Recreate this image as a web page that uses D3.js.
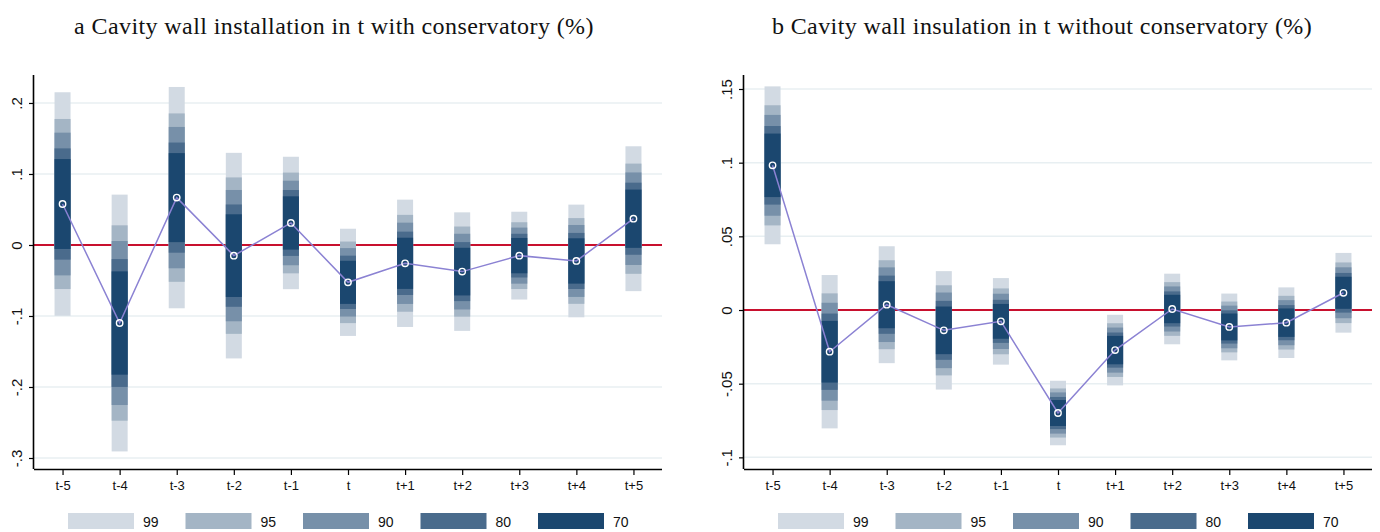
<!DOCTYPE html>
<html>
<head>
<meta charset="utf-8">
<script src="https://cdn.jsdelivr.net/npm/d3@7"></script>
<style>
  body { margin: 0; background: #fff; }
  svg { display: block; }
</style>
</head>
<body>
<svg id="chart" width="1380" height="532"></svg>
<script>
// Event-time periods around the installation year
const periods = ["t-5", "t-4", "t-3", "t-2", "t-1", "t", "t+1", "t+2", "t+3", "t+4", "t+5"];

// Panel a: coefficients and standard errors
const coefA = [0.0577, -0.1099, 0.0667, -0.0150, 0.0310, -0.0526, -0.0258, -0.0375, -0.0150, -0.0225, 0.0370];
const seA   = [0.0611, 0.0702, 0.0605, 0.0562, 0.0362, 0.0293, 0.0348, 0.0324, 0.0240, 0.0308, 0.0396];

// Panel b: coefficients and standard errors
const coefB = [0.0982, -0.0283, 0.0036, -0.0138, -0.0077, -0.0699, -0.0272, 0.0007, -0.0115, -0.0086, 0.0117];
const seB   = [0.0208, 0.0202, 0.0154, 0.0156, 0.0114, 0.0085, 0.0093, 0.0093, 0.0088, 0.0093, 0.0105];

// Confidence levels (%), matching normal quantiles, and their shades
const levels = [99, 95, 90, 80, 70];
const zValues = [2.576, 1.960, 1.645, 1.282, 1.036];
const levelColors = ["#d2dae3", "#a4b5c5", "#7790a9", "#4a6b8c", "#1b476f"];

// Tick labels for each panel's y axis
const ticksA = [-0.3, -0.2, -0.1, 0, 0.1, 0.2];
const tickLabelsA = ["-.3", "-.2", "-.1", "0", ".1", ".2"];
const ticksB = [-0.1, -0.05, 0, 0.05, 0.1, 0.15];
const tickLabelsB = ["-.1", "-.05", "0", ".05", ".1", ".15"];

const titles = [
  "a Cavity wall installation in t with conservatory (%)",
  "b Cavity wall insulation in t without conservatory (%)"
];

const svg = d3.select("#chart");
const plotTop = 75, plotBottom = 469;

function panel(cfg) {
  const g = svg.append("g");
  const x = d3.scalePoint().domain(periods).range([cfg.x0, cfg.x1]).padding(0.5);
  const y = d3.scaleLinear().domain(cfg.yDomain).range([plotBottom, plotTop]);

  // title
  g.append("text")
    .attr("x", cfg.titleX).attr("y", 34)
    .attr("text-anchor", "middle")
    .attr("font-family", "'Liberation Serif', 'DejaVu Serif', serif")
    .attr("font-size", 24)
    .attr("letter-spacing", 0.4)
    .attr("fill", "#111")
    .text(cfg.title);

  // horizontal grid lines
  g.selectAll("line.grid").data(cfg.ticks).enter().append("line")
    .attr("x1", cfg.x0).attr("x2", cfg.x1)
    .attr("y1", d => y(d)).attr("y2", d => y(d))
    .attr("stroke", "#e8eff2").attr("stroke-width", 1.5);

  // zero reference line
  g.append("line")
    .attr("x1", cfg.x0).attr("x2", cfg.x1)
    .attr("y1", y(0)).attr("y2", y(0))
    .attr("stroke", "#c8102e").attr("stroke-width", 1.8);

  // stacked confidence bars, widest first
  const barW = 16;
  levels.forEach((lvl, li) => {
    g.selectAll(null).data(cfg.coef).enter().append("rect")
      .attr("x", (d, i) => x(periods[i]) - barW / 2)
      .attr("width", barW)
      .attr("y", (d, i) => y(d + zValues[li] * cfg.se[i]))
      .attr("height", (d, i) => y(d - zValues[li] * cfg.se[i]) - y(d + zValues[li] * cfg.se[i]))
      .attr("fill", levelColors[li]);
  });

  // point-estimate connecting line
  const line = d3.line().x((d, i) => x(periods[i])).y(d => y(d));
  g.append("path").datum(cfg.coef)
    .attr("d", line)
    .attr("fill", "none")
    .attr("stroke", "#8b82d3")
    .attr("stroke-width", 1.5);

  // hollow circle markers
  g.selectAll(null).data(cfg.coef).enter().append("circle")
    .attr("cx", (d, i) => x(periods[i]))
    .attr("cy", d => y(d))
    .attr("r", 3.2)
    .attr("fill", "none")
    .attr("stroke", "#ffffff")
    .attr("stroke-width", 1.4);

  // y axis
  const yAxis = d3.axisLeft(y).tickValues(cfg.ticks)
    .tickFormat((d, i) => cfg.tickLabels[i]).tickSize(5).tickPadding(7);
  const ya = g.append("g").attr("transform", `translate(${cfg.x0},0)`).call(yAxis);
  ya.select(".domain").attr("d", `M-0.5,${plotTop}V${plotBottom}`).attr("stroke", "#000").attr("stroke-width", 1.6);
  ya.selectAll(".tick line").attr("stroke", "#000").attr("stroke-width", 1.2);
  ya.selectAll(".tick text")
    .attr("font-family", "'Liberation Sans', Arial, sans-serif")
    .attr("font-size", 15)
    .attr("fill", "#111")
    .attr("text-anchor", "middle")
    .attr("dy", null)
    .attr("x", null)
    .attr("transform", "translate(-12,0) rotate(-90)");

  // x axis
  const xAxis = d3.axisBottom(x).tickSize(6).tickPadding(6);
  const xa = g.append("g").attr("transform", `translate(0,${plotBottom})`).call(xAxis);
  xa.select(".domain").attr("d", `M${cfg.x0},0.5H${cfg.x1}`).attr("stroke", "#000").attr("stroke-width", 1.6);
  xa.selectAll(".tick line").attr("stroke", "#000").attr("stroke-width", 1.2);
  xa.selectAll(".tick text")
    .attr("font-family", "'Liberation Sans', Arial, sans-serif")
    .attr("font-size", 13)
    .attr("fill", "#111");

  // legend
  const lg = g.append("g");
  levels.forEach((lvl, li) => {
    const lx = cfg.x0 + 34 + li * 117.5;
    lg.append("rect").attr("x", lx).attr("y", 513).attr("width", 66).attr("height", 16)
      .attr("fill", levelColors[li]);
    lg.append("text").attr("x", lx + 75).attr("y", 527)
      .attr("font-family", "'Liberation Sans', Arial, sans-serif")
      .attr("font-size", 14)
      .attr("fill", "#111")
      .text(lvl);
  });
}

panel({
  x0: 34, x1: 662, yDomain: [-0.3155, 0.2394],
  coef: coefA, se: seA, ticks: ticksA, tickLabels: tickLabelsA,
  title: titles[0], titleX: 334
});
panel({
  x0: 744, x1: 1372, yDomain: [-0.1079, 0.1595],
  coef: coefB, se: seB, ticks: ticksB, tickLabels: tickLabelsB,
  title: titles[1], titleX: 1042
});
</script>
</body>
</html>
